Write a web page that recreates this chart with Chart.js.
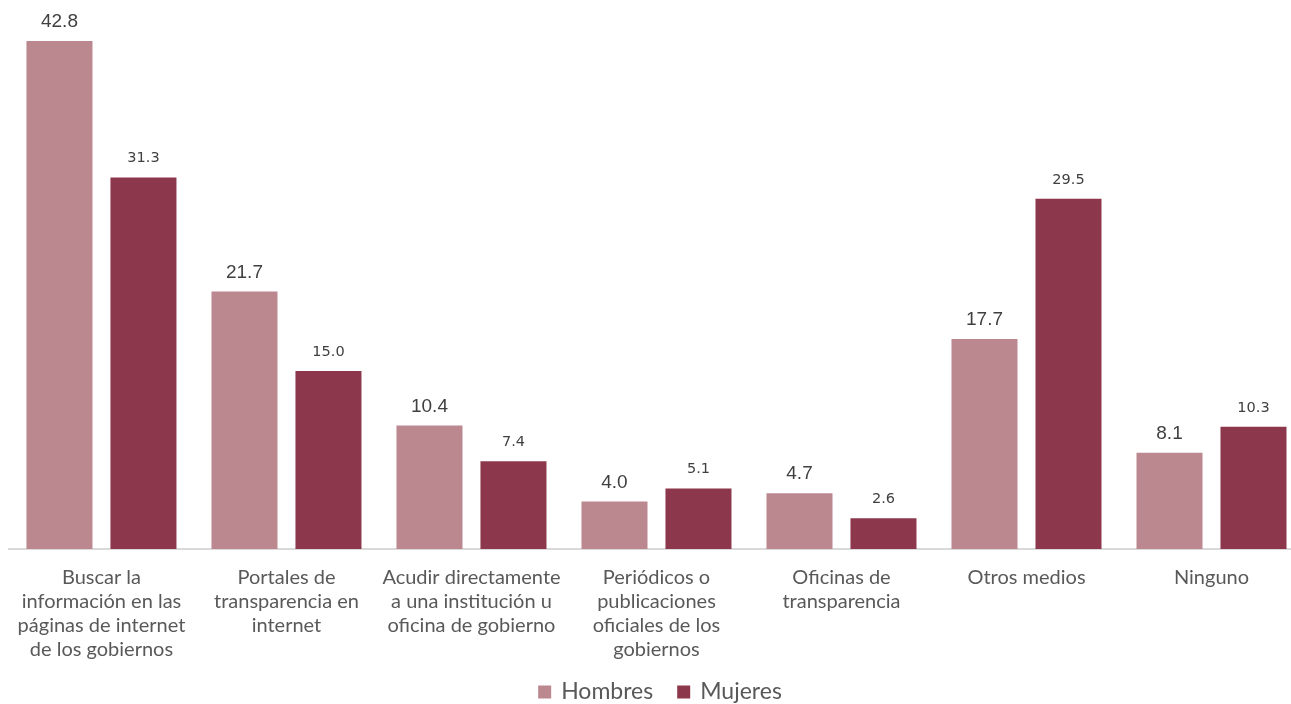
<!DOCTYPE html>
<html>
<head>
<meta charset="utf-8">
<script src="https://cdn.jsdelivr.net/npm/chart.js@4/dist/chart.umd.min.js"></script>
<style>
  html, body { margin: 0; padding: 0; background: #ffffff; overflow: hidden; }
  #wrap { width: 1291px; height: 704px; overflow: hidden; position: relative; }
  #box { width: 1304px; height: 704px; position: absolute; left: 0; top: 0; }
</style>
</head>
<body>
<div id="wrap"><div id="box"><canvas id="c"></canvas></div></div>
<script>
const categories = [
  ["Buscar la", "información en las", "páginas de internet", "de los gobiernos"],
  ["Portales de", "transparencia en", "internet"],
  ["Acudir directamente", "a una institución u", "oficina de gobierno"],
  ["Periódicos o", "publicaciones", "oficiales de los", "gobiernos"],
  ["Oficinas de", "transparencia"],
  ["Otros medios"],
  ["Ninguno"]
];
const hombres = [42.8, 21.7, 10.4, 4.0, 4.7, 17.7, 8.1];
const mujeres = [31.3, 15.0, 7.4, 5.1, 2.6, 29.5, 10.3];

// Writes each bar's value above it, with a per-dataset font
const valueLabels = {
  id: 'valueLabels',
  afterDatasetsDraw(chart) {
    const ctx = chart.ctx;
    chart.data.datasets.forEach((ds, i) => {
      const meta = chart.getDatasetMeta(i);
      const f = ds.labelFont;
      ctx.save();
      ctx.font = f.size + 'px ' + f.family;
      ctx.fillStyle = f.color;
      ctx.textAlign = 'center';
      ctx.textBaseline = 'middle';
      meta.data.forEach((bar, j) => {
        ctx.fillText(ds.data[j].toFixed(1), bar.x, bar.y - f.offset);
      });
      ctx.restore();
    });
  }
};

// Compact legend along the bottom edge: square swatch + series name
const bottomLegend = {
  id: 'bottomLegend',
  afterDraw(chart, args, opts) {
    const ctx = chart.ctx;
    ctx.save();
    ctx.font = opts.size + 'px ' + opts.family;
    ctx.textBaseline = 'middle';
    ctx.textAlign = 'left';
    const items = chart.data.datasets.map(ds => ({
      text: ds.label, color: ds.backgroundColor, w: ctx.measureText(ds.label).width
    }));
    const itemW = it => opts.box + opts.boxGap + it.w;
    const total = items.reduce((s, it) => s + itemW(it), 0) + opts.itemGap * (items.length - 1);
    let x = opts.centerX - total / 2;
    const y = chart.height - opts.fromBottom;
    items.forEach(it => {
      ctx.fillStyle = it.color;
      ctx.fillRect(x, y - opts.box / 2, opts.box, opts.box);
      ctx.fillStyle = opts.color;
      ctx.fillText(it.text, x + opts.box + opts.boxGap, y);
      x += itemW(it) + opts.itemGap;
    });
    ctx.restore();
  }
};

new Chart(document.getElementById('c'), {
  type: 'bar',
  data: {
    labels: categories,
    datasets: [
      {
        label: 'Hombres',
        data: hombres,
        backgroundColor: '#bc8890',
        categoryPercentage: 0.908,
        barPercentage: 0.786,
        labelFont: { size: 19, family: '"Liberation Sans", Arial, sans-serif', color: '#404040', offset: 19 }
      },
      {
        label: 'Mujeres',
        data: mujeres,
        backgroundColor: '#8c374c',
        categoryPercentage: 0.908,
        barPercentage: 0.786,
        labelFont: { size: 14.5, family: '"DejaVu Sans", Verdana, sans-serif', color: '#404040', offset: 19 }
      }
    ]
  },
  options: {
    responsive: true,
    maintainAspectRatio: false,
    animation: false,
    layout: { padding: { left: 8.5, right: 0, top: 3, bottom: 24 } },
    plugins: {
      legend: { display: false },
      tooltip: { enabled: false },
      bottomLegend: {
        family: 'Lato', size: 23, color: '#595959',
        box: 13, boxGap: 10, itemGap: 24,
        centerX: 660, fromBottom: 12
      }
    },
    scales: {
      x: {
        grid: { display: false, drawTicks: false },
        border: { display: true, color: '#d9d9d9', width: 2 },
        afterFit(scale) { scale.height = 131; },
        ticks: {
          font: { family: 'Lato', size: 20, lineHeight: 1.2 },
          color: '#595959',
          padding: 17,
          maxRotation: 0,
          autoSkip: false
        }
      },
      y: {
        display: false,
        min: 0,
        max: 46
      }
    }
  },
  plugins: [valueLabels, bottomLegend]
});
</script>
</body>
</html>
